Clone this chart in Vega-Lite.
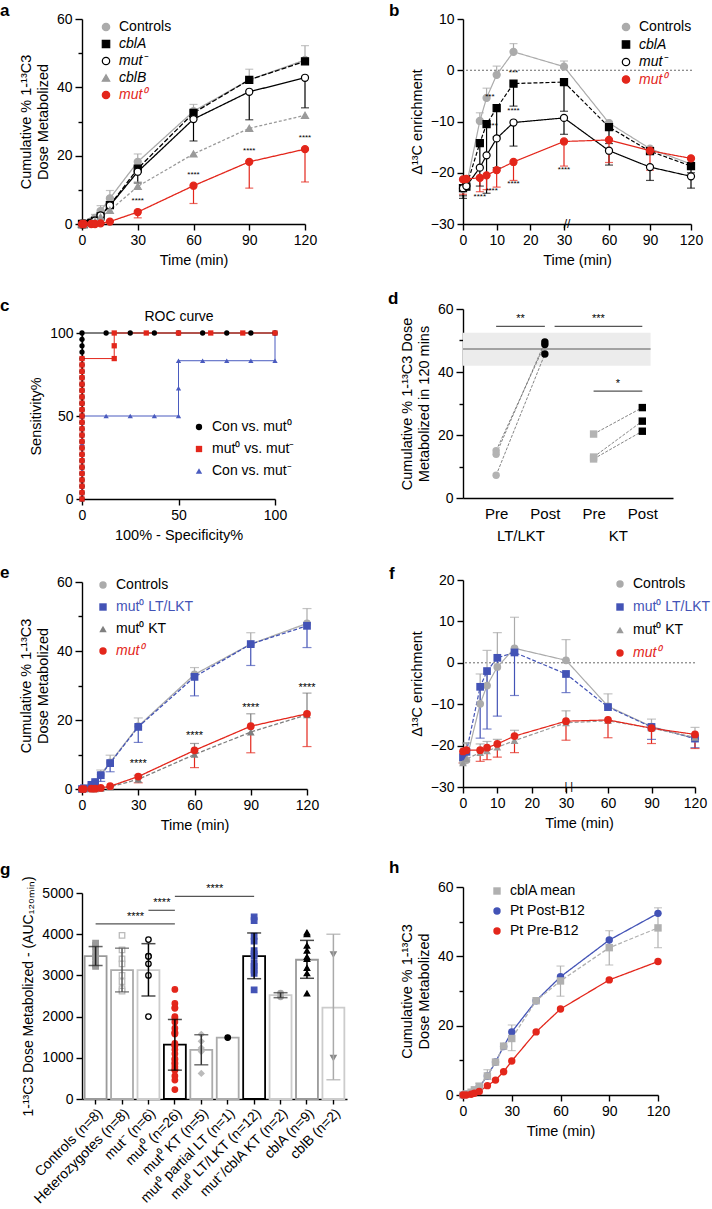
{
"$schema":"https://vega.github.io/schema/vega-lite/v6.json",
"padding":{"left":0,"top":2,"right":0,"bottom":0},
"background":"white",
"config":{
 "font":"Liberation Sans",
 "view":{"stroke":null},
 "axis":{"grid":false,"domainColor":"black","domainWidth":1.4,"tickColor":"black","tickWidth":1.4,"tickSize":6,"labelColor":"black","labelFontSize":14,"titleColor":"black","titleFontSize":14.5,"titleFontWeight":"normal","labelPadding":3,"titlePadding":6,"labelFlush":false,"labelOverlap":false},
 "legend":{"labelFont":"Liberation Sans"},
 "text":{"color":"black"},
 "title":{"font":"Liberation Sans","fontSize":17,"fontWeight":"bold","anchor":"start","frame":"group","color":"black","offset":0,"baseline":"alphabetic"}
},
"spacing":41,
"resolve":{"scale":{"color":"independent","fill":"independent","stroke":"independent","shape":"independent","strokeDash":"independent"},"legend":{"color":"independent","fill":"independent","stroke":"independent","shape":"independent","strokeDash":"independent"}},
"hconcat":[
 {"spacing":22,
  "resolve":{"scale":{"color":"independent","fill":"independent","stroke":"independent","shape":"independent","strokeDash":"independent"},"legend":{"color":"independent","fill":"independent","stroke":"independent","shape":"independent","strokeDash":"independent"}},
  "vconcat":[
  {"spacing":109,"bounds":"flush",
   "resolve":{"scale":{"color":"independent","fill":"independent","stroke":"independent","shape":"independent","strokeDash":"independent"},"legend":{"color":"independent","fill":"independent","stroke":"independent","shape":"independent","strokeDash":"independent"}},
   "vconcat":[
   {"width":223,"height":205,
    "title":{"text":"a","dx":-82,"dy":12},
    "data":{"values":[
     {"s":"Controls","t":0,"v":0},{"s":"Controls","t":1,"v":0.2},{"s":"Controls","t":5,"v":0.8},{"s":"Controls","t":7,"v":1.8,"e":2.8},{"s":"Controls","t":10,"v":3.8,"e":5.4},{"s":"Controls","t":15,"v":7.5,"e":9.8},{"s":"Controls","t":30,"v":18.2,"e":20.5},{"s":"Controls","t":60,"v":33,"e":35},{"s":"Controls","t":90,"v":42.2,"e":45.3},{"s":"Controls","t":120,"v":48,"e":52.2},
     {"s":"cblA","t":0,"v":0},{"s":"cblA","t":1,"v":0},{"s":"cblA","t":5,"v":0.3},{"s":"cblA","t":7,"v":0.9},{"s":"cblA","t":10,"v":2.2},{"s":"cblA","t":15,"v":5.5},{"s":"cblA","t":30,"v":16.2},{"s":"cblA","t":60,"v":32.5},{"s":"cblA","t":90,"v":42.2},{"s":"cblA","t":120,"v":47.6},
     {"s":"mut⁻","t":0,"v":0},{"s":"mut⁻","t":1,"v":0},{"s":"mut⁻","t":5,"v":0.3},{"s":"mut⁻","t":7,"v":1},{"s":"mut⁻","t":10,"v":2.5},{"s":"mut⁻","t":15,"v":5.4},{"s":"mut⁻","t":30,"v":15.3,"e":12},{"s":"mut⁻","t":60,"v":30.7,"e":24.3},{"s":"mut⁻","t":90,"v":38.7,"e":30.5},{"s":"mut⁻","t":120,"v":42.8,"e":34},
     {"s":"cblB","t":0,"v":0},{"s":"cblB","t":1,"v":0},{"s":"cblB","t":5,"v":0.2},{"s":"cblB","t":7,"v":0.7},{"s":"cblB","t":10,"v":2},{"s":"cblB","t":15,"v":4},{"s":"cblB","t":30,"v":11,"e":12.3},{"s":"cblB","t":60,"v":20.5},{"s":"cblB","t":90,"v":28},{"s":"cblB","t":120,"v":31.8},
     {"s":"mut⁰","t":0,"v":0},{"s":"mut⁰","t":1,"v":0},{"s":"mut⁰","t":5,"v":0},{"s":"mut⁰","t":7,"v":0},{"s":"mut⁰","t":10,"v":0.2},{"s":"mut⁰","t":15,"v":0.7},{"s":"mut⁰","t":30,"v":3.5,"e":1.8},{"s":"mut⁰","t":60,"v":11.2,"e":6},{"s":"mut⁰","t":90,"v":18.2,"e":10.5},{"s":"mut⁰","t":120,"v":21.9,"e":12.3}
    ]},
    "layer":[
     {"mark":{"type":"line","strokeWidth":1.3},
      "encoding":{
       "x":{"field":"t","type":"quantitative","scale":{"domain":[0,120],"nice":false},"axis":{"values":[0,30,60,90,120],"tickCount":20,"title":"Time (min)"}},
       "y":{"field":"v","type":"quantitative","scale":{"domain":[0,60],"nice":false},"axis":{"values":[0,10,20,30,40,50,60],"tickCount":20,"labelExpr":"datum.value % 20 == 0 ? datum.label : ''","tickSize":{"condition":{"test":"datum.value % 20 != 0","value":4},"value":7},"title":["Cumulative % 1-¹³C3","Dose Metabolized"]}},
       "stroke":{"field":"s","type":"nominal","scale":{"domain":["mut⁰","cblB","mut⁻","cblA","Controls"],"range":["#e3261b","#9a9a9a","#000000","#000000","#ababab"]},"legend":null},
       "strokeDash":{"field":"s","type":"nominal","scale":{"domain":["mut⁰","cblB","mut⁻","cblA","Controls"],"range":[[1,0],[3,2],[1,0],[5,2],[1,0]]},"legend":null}}},
     {"transform":[{"filter":"isValid(datum.e)"}],"mark":{"type":"rule","strokeWidth":1.2},
      "encoding":{"x":{"field":"t","type":"quantitative"},"y":{"field":"v","type":"quantitative"},"y2":{"field":"e"},"stroke":{"field":"s","type":"nominal","legend":null}}},
     {"transform":[{"filter":"isValid(datum.e)"}],"mark":{"type":"tick","orient":"horizontal","size":8,"thickness":1.2},
      "encoding":{"x":{"field":"t","type":"quantitative"},"y":{"field":"e","type":"quantitative"},"color":{"field":"s","type":"nominal","scale":{"domain":["mut⁰","cblB","mut⁻","cblA","Controls"],"range":["#e3261b","#9a9a9a","#000000","#000000","#ababab"]},"legend":null}}},
     {"mark":{"type":"point","filled":true,"size":50,"opacity":1,"strokeWidth":1.2},
      "encoding":{"x":{"field":"t","type":"quantitative"},"y":{"field":"v","type":"quantitative"},
       "fill":{"field":"s","type":"nominal","scale":{"domain":["mut⁰","cblB","mut⁻","cblA","Controls"],"range":["#e3261b","#9a9a9a","#ffffff","#000000","#ababab"]},"legend":null},
       "stroke":{"field":"s","type":"nominal","legend":null},
       "shape":{"field":"s","type":"nominal","scale":{"domain":["Controls","cblA","mut⁻","cblB","mut⁰"],"range":["circle","square","circle","triangle-up","circle"]},
        "legend":{"title":null,"orient":"none","legendX":17,"legendY":1,"labelFontSize":14,"symbolSize":55,"rowPadding":3,"labelOffset":6,"symbolStrokeWidth":1.2,"symbolOpacity":1,
         "symbolFillColor":{"expr":"datum.value === 'Controls' ? '#ababab' : datum.value === 'cblB' ? '#9a9a9a' : datum.value === 'mut⁰' ? '#e3261b' : datum.value === 'mut⁻' ? '#ffffff' : '#000000'"},
         "symbolStrokeColor":{"expr":"datum.value === 'Controls' ? '#ababab' : datum.value === 'cblB' ? '#9a9a9a' : datum.value === 'mut⁰' ? '#e3261b' : '#000000'"},
         "labelColor":{"expr":"datum.value === 'mut⁰' ? '#e3261b' : '#000000'"},
         "labelFontStyle":{"expr":"datum.value === 'Controls' ? 'normal' : 'italic'"}}}}},
     {"data":{"values":[{"t":30,"y":5.5,"txt":"****"},{"t":60,"y":13.3,"txt":"****"},{"t":90,"y":20.3,"txt":"****"},{"t":120,"y":24,"txt":"****"}]},
      "mark":{"type":"text","fontSize":8,"baseline":"bottom","color":"black"},
      "encoding":{"x":{"field":"t","type":"quantitative"},"y":{"field":"y","type":"quantitative"},"text":{"field":"txt"}}}
    ]},
   {"width":193,"height":166,
    "title":{"text":"c","dx":-82,"dy":9.5},
    "data":{"values":[
     {"s":"Con vs. mut⁰","o":1,"x":0,"y":0},{"s":"Con vs. mut⁰","o":2,"x":0,"y":3.8},{"s":"Con vs. mut⁰","o":3,"x":0,"y":7.7},{"s":"Con vs. mut⁰","o":4,"x":0,"y":11.5},{"s":"Con vs. mut⁰","o":5,"x":0,"y":15.4},{"s":"Con vs. mut⁰","o":6,"x":0,"y":19.2},{"s":"Con vs. mut⁰","o":7,"x":0,"y":23.1},{"s":"Con vs. mut⁰","o":8,"x":0,"y":26.9},{"s":"Con vs. mut⁰","o":9,"x":0,"y":30.8},{"s":"Con vs. mut⁰","o":10,"x":0,"y":34.6},{"s":"Con vs. mut⁰","o":11,"x":0,"y":38.5},{"s":"Con vs. mut⁰","o":12,"x":0,"y":42.3},{"s":"Con vs. mut⁰","o":13,"x":0,"y":46.2},{"s":"Con vs. mut⁰","o":14,"x":0,"y":50},{"s":"Con vs. mut⁰","o":15,"x":0,"y":53.8},{"s":"Con vs. mut⁰","o":16,"x":0,"y":57.7},{"s":"Con vs. mut⁰","o":17,"x":0,"y":61.5},{"s":"Con vs. mut⁰","o":18,"x":0,"y":65.4},{"s":"Con vs. mut⁰","o":19,"x":0,"y":69.2},{"s":"Con vs. mut⁰","o":20,"x":0,"y":73.1},{"s":"Con vs. mut⁰","o":21,"x":0,"y":76.9},{"s":"Con vs. mut⁰","o":22,"x":0,"y":80.8},{"s":"Con vs. mut⁰","o":23,"x":0,"y":84.6},{"s":"Con vs. mut⁰","o":24,"x":0,"y":88.5},{"s":"Con vs. mut⁰","o":25,"x":0,"y":92.3},{"s":"Con vs. mut⁰","o":26,"x":0,"y":96.2},{"s":"Con vs. mut⁰","o":27,"x":0,"y":100},
     {"s":"Con vs. mut⁰","o":28,"x":12.5,"y":100},{"s":"Con vs. mut⁰","o":29,"x":25,"y":100},{"s":"Con vs. mut⁰","o":30,"x":37.5,"y":100},{"s":"Con vs. mut⁰","o":31,"x":50,"y":100},{"s":"Con vs. mut⁰","o":32,"x":62.5,"y":100},{"s":"Con vs. mut⁰","o":33,"x":75,"y":100},{"s":"Con vs. mut⁰","o":34,"x":87.5,"y":100},{"s":"Con vs. mut⁰","o":35,"x":100,"y":100},
     {"s":"Con vs. mut⁻","o":1,"x":0,"y":0},{"s":"Con vs. mut⁻","o":2,"x":0,"y":16.7},{"s":"Con vs. mut⁻","o":3,"x":0,"y":33.3},{"s":"Con vs. mut⁻","o":4,"x":0,"y":50},{"s":"Con vs. mut⁻","o":5,"x":12.5,"y":50},{"s":"Con vs. mut⁻","o":6,"x":25,"y":50},{"s":"Con vs. mut⁻","o":7,"x":37.5,"y":50},{"s":"Con vs. mut⁻","o":8,"x":50,"y":50},{"s":"Con vs. mut⁻","o":9,"x":50,"y":66.7},{"s":"Con vs. mut⁻","o":10,"x":50,"y":83.3},{"s":"Con vs. mut⁻","o":11,"x":62.5,"y":83.3},{"s":"Con vs. mut⁻","o":12,"x":75,"y":83.3},{"s":"Con vs. mut⁻","o":13,"x":87.5,"y":83.3},{"s":"Con vs. mut⁻","o":14,"x":100,"y":83.3},{"s":"Con vs. mut⁻","o":15,"x":100,"y":100},
     {"s":"mut⁰ vs. mut⁻","o":1,"x":0,"y":0},{"s":"mut⁰ vs. mut⁻","o":2,"x":0,"y":3.8},{"s":"mut⁰ vs. mut⁻","o":3,"x":0,"y":7.7},{"s":"mut⁰ vs. mut⁻","o":4,"x":0,"y":11.5},{"s":"mut⁰ vs. mut⁻","o":5,"x":0,"y":15.4},{"s":"mut⁰ vs. mut⁻","o":6,"x":0,"y":19.2},{"s":"mut⁰ vs. mut⁻","o":7,"x":0,"y":23.1},{"s":"mut⁰ vs. mut⁻","o":8,"x":0,"y":26.9},{"s":"mut⁰ vs. mut⁻","o":9,"x":0,"y":30.8},{"s":"mut⁰ vs. mut⁻","o":10,"x":0,"y":34.6},{"s":"mut⁰ vs. mut⁻","o":11,"x":0,"y":38.5},{"s":"mut⁰ vs. mut⁻","o":12,"x":0,"y":42.3},{"s":"mut⁰ vs. mut⁻","o":13,"x":0,"y":46.2},{"s":"mut⁰ vs. mut⁻","o":14,"x":0,"y":50},{"s":"mut⁰ vs. mut⁻","o":15,"x":0,"y":53.8},{"s":"mut⁰ vs. mut⁻","o":16,"x":0,"y":57.7},{"s":"mut⁰ vs. mut⁻","o":17,"x":0,"y":61.5},{"s":"mut⁰ vs. mut⁻","o":18,"x":0,"y":65.4},{"s":"mut⁰ vs. mut⁻","o":19,"x":0,"y":69.2},{"s":"mut⁰ vs. mut⁻","o":20,"x":0,"y":73.1},{"s":"mut⁰ vs. mut⁻","o":21,"x":0,"y":76.9},{"s":"mut⁰ vs. mut⁻","o":22,"x":0,"y":80.8},{"s":"mut⁰ vs. mut⁻","o":23,"x":0,"y":84.6},
     {"s":"mut⁰ vs. mut⁻","o":24,"x":16.7,"y":84.6},{"s":"mut⁰ vs. mut⁻","o":25,"x":16.7,"y":92.3},{"s":"mut⁰ vs. mut⁻","o":26,"x":16.7,"y":100},{"s":"mut⁰ vs. mut⁻","o":27,"x":33.3,"y":100},{"s":"mut⁰ vs. mut⁻","o":28,"x":50,"y":100},{"s":"mut⁰ vs. mut⁻","o":29,"x":66.7,"y":100},{"s":"mut⁰ vs. mut⁻","o":30,"x":83.3,"y":100},{"s":"mut⁰ vs. mut⁻","o":31,"x":100,"y":100}
    ]},
    "resolve":{"axis":{"x":"independent"}},
    "layer":[
     {"mark":{"type":"line","strokeWidth":1},
      "encoding":{
       "x":{"field":"x","type":"quantitative","scale":{"domain":[0,100],"nice":false},"axis":{"values":[0,50,100],"title":"100% - Specificity%"}},
       "y":{"field":"y","type":"quantitative","scale":{"domain":[0,100],"nice":false},"axis":{"values":[0,50,100],"title":"Sensitivity%"}},
       "order":{"field":"o","type":"quantitative"},
       "stroke":{"field":"s","type":"nominal","scale":{"domain":["Con vs. mut⁻","mut⁰ vs. mut⁻","Con vs. mut⁰"],"range":["#4a5bbf","#e3261b","#000000"]},"legend":null}}},
     {"mark":{"type":"point","filled":true,"size":28,"opacity":1},
      "encoding":{
       "x":{"field":"x","type":"quantitative","axis":{"orient":"top","title":"ROC curve","labels":false,"ticks":false,"domain":false,"titlePadding":10,"titleFontSize":14}},
       "y":{"field":"y","type":"quantitative"},
       "fill":{"field":"s","type":"nominal","scale":{"domain":["Con vs. mut⁻","mut⁰ vs. mut⁻","Con vs. mut⁰"],"range":["#4a5bbf","#e3261b","#000000"]},"legend":null},
       "shape":{"field":"s","type":"nominal","scale":{"domain":["Con vs. mut⁰","mut⁰ vs. mut⁻","Con vs. mut⁻"],"range":["circle","square","triangle-up"]},
        "legend":{"title":null,"orient":"none","legendX":110,"legendY":87,"labelFontSize":14,"symbolSize":40,"rowPadding":8,"labelOffset":6,"symbolOpacity":1,"symbolStrokeWidth":0,
         "symbolFillColor":{"expr":"datum.value === 'Con vs. mut⁰' ? '#000000' : datum.value === 'mut⁰ vs. mut⁻' ? '#e3261b' : '#4a5bbf'"},
         "symbolStrokeColor":{"expr":"datum.value === 'Con vs. mut⁰' ? '#000000' : datum.value === 'mut⁰ vs. mut⁻' ? '#e3261b' : '#4a5bbf'"},
         "labelColor":"#000000"}}}}
    ]}
  ]},
  {"spacing":104,"bounds":"flush",
   "resolve":{"scale":{"color":"independent","fill":"independent","stroke":"independent","shape":"independent","strokeDash":"independent"},"legend":{"color":"independent","fill":"independent","stroke":"independent","shape":"independent","strokeDash":"independent"}},
   "vconcat":[
   {"width":225,"height":207,
    "title":{"text":"e","dx":-82,"dy":11},
    "data":{"values":[
     {"s":"Controls","t":0,"v":0},{"s":"Controls","t":1,"v":0.2},{"s":"Controls","t":5,"v":1.2},{"s":"Controls","t":7,"v":2},{"s":"Controls","t":10,"v":4.2,"e":5.5},{"s":"Controls","t":15,"v":7.7,"e":9.8},{"s":"Controls","t":30,"v":18.2,"e":20.6},{"s":"Controls","t":60,"v":33.2,"e":35.2},{"s":"Controls","t":90,"v":42,"e":45.3},{"s":"Controls","t":120,"v":48,"e":52.3},
     {"s":"mut⁰ LT/LKT","t":0,"v":0},{"s":"mut⁰ LT/LKT","t":1,"v":0.2},{"s":"mut⁰ LT/LKT","t":5,"v":1.2},{"s":"mut⁰ LT/LKT","t":7,"v":2},{"s":"mut⁰ LT/LKT","t":10,"v":4,"e":2.2},{"s":"mut⁰ LT/LKT","t":15,"v":7.5,"e":5},{"s":"mut⁰ LT/LKT","t":30,"v":18,"e":13.5},{"s":"mut⁰ LT/LKT","t":60,"v":32.5,"e":27},{"s":"mut⁰ LT/LKT","t":90,"v":42,"e":35.8},{"s":"mut⁰ LT/LKT","t":120,"v":47.3,"e":41},
     {"s":"mut⁰ KT","t":0,"v":0},{"s":"mut⁰ KT","t":1,"v":0},{"s":"mut⁰ KT","t":5,"v":0},{"s":"mut⁰ KT","t":7,"v":0},{"s":"mut⁰ KT","t":10,"v":0.2},{"s":"mut⁰ KT","t":15,"v":0.6},{"s":"mut⁰ KT","t":30,"v":2.8,"e":4},{"s":"mut⁰ KT","t":60,"v":10,"e":13.2},{"s":"mut⁰ KT","t":90,"v":16.5,"e":21.8},{"s":"mut⁰ KT","t":120,"v":21.5,"e":27.8},
     {"s":"mut⁰","t":0,"v":0},{"s":"mut⁰","t":1,"v":0},{"s":"mut⁰","t":5,"v":0.1},{"s":"mut⁰","t":7,"v":0.1},{"s":"mut⁰","t":10,"v":0.3},{"s":"mut⁰","t":15,"v":0.8},{"s":"mut⁰","t":30,"v":3.6,"e":1.8},{"s":"mut⁰","t":60,"v":11.2,"e":6.2},{"s":"mut⁰","t":90,"v":18.2,"e":10.5},{"s":"mut⁰","t":120,"v":21.8,"e":12.3}
    ]},
    "layer":[
     {"mark":{"type":"line","strokeWidth":1.3},
      "encoding":{
       "x":{"field":"t","type":"quantitative","scale":{"domain":[0,120],"nice":false},"axis":{"values":[0,30,60,90,120],"tickCount":20,"title":"Time (min)"}},
       "y":{"field":"v","type":"quantitative","scale":{"domain":[0,60],"nice":false},"axis":{"values":[0,10,20,30,40,50,60],"tickCount":20,"labelExpr":"datum.value % 20 == 0 ? datum.label : ''","tickSize":{"condition":{"test":"datum.value % 20 != 0","value":4},"value":7},"title":["Cumulative % 1-¹³C3","Dose Metabolized"]}},
       "stroke":{"field":"s","type":"nominal","scale":{"domain":["mut⁰","mut⁰ KT","mut⁰ LT/LKT","Controls"],"range":["#e3261b","#7f7f7f","#4353b6","#ababab"]},"legend":null},
       "strokeDash":{"field":"s","type":"nominal","scale":{"domain":["mut⁰","mut⁰ KT","mut⁰ LT/LKT","Controls"],"range":[[1,0],[4,2],[4,2],[1,0]]},"legend":null}}},
     {"transform":[{"filter":"isValid(datum.e)"}],"mark":{"type":"rule","strokeWidth":1.2},
      "encoding":{"x":{"field":"t","type":"quantitative"},"y":{"field":"v","type":"quantitative"},"y2":{"field":"e"},"stroke":{"field":"s","type":"nominal","legend":null}}},
     {"transform":[{"filter":"isValid(datum.e)"}],"mark":{"type":"tick","orient":"horizontal","size":9,"thickness":1.2},
      "encoding":{"x":{"field":"t","type":"quantitative"},"y":{"field":"e","type":"quantitative"},"color":{"field":"s","type":"nominal","scale":{"domain":["mut⁰","mut⁰ KT","mut⁰ LT/LKT","Controls"],"range":["#e3261b","#7f7f7f","#4353b6","#ababab"]},"legend":null}}},
     {"mark":{"type":"point","filled":true,"size":60,"opacity":1,"strokeWidth":1.2},
      "encoding":{"x":{"field":"t","type":"quantitative"},"y":{"field":"v","type":"quantitative"},
       "fill":{"field":"s","type":"nominal","scale":{"domain":["mut⁰","mut⁰ KT","mut⁰ LT/LKT","Controls"],"range":["#e3261b","#7f7f7f","#4353b6","#ababab"]},"legend":null},
       "shape":{"field":"s","type":"nominal","scale":{"domain":["Controls","mut⁰ LT/LKT","mut⁰ KT","mut⁰"],"range":["circle","square","triangle-up","circle"]},
        "legend":{"title":null,"orient":"none","legendX":14,"legendY":-4,"labelFontSize":14,"symbolSize":55,"rowPadding":8,"labelOffset":6,"symbolOpacity":1,"symbolStrokeWidth":0,
         "symbolFillColor":{"expr":"datum.value === 'Controls' ? '#ababab' : datum.value === 'mut⁰ LT/LKT' ? '#4353b6' : datum.value === 'mut⁰ KT' ? '#7f7f7f' : '#e3261b'"},
         "symbolStrokeColor":{"expr":"datum.value === 'Controls' ? '#ababab' : datum.value === 'mut⁰ LT/LKT' ? '#4353b6' : datum.value === 'mut⁰ KT' ? '#7f7f7f' : '#e3261b'"},
         "labelColor":{"expr":"datum.value === 'mut⁰' ? '#e3261b' : datum.value === 'mut⁰ LT/LKT' ? '#4353b6' : '#000000'"},
         "labelFontStyle":{"expr":"datum.value === 'mut⁰' ? 'italic' : 'normal'"}}}}},
     {"data":{"values":[{"t":30,"y":5.8,"txt":"****"},{"t":60,"y":13.8,"txt":"****"},{"t":90,"y":21.9,"txt":"****"},{"t":120,"y":27.9,"txt":"****"}]},
      "mark":{"type":"text","fontSize":11,"baseline":"bottom","color":"black"},
      "encoding":{"x":{"field":"t","type":"quantitative"},"y":{"field":"y","type":"quantitative"},"text":{"field":"txt"}}}
    ]},
   {"width":265,"height":206,
    "title":{"text":"g","dx":-82,"dy":7},
    "resolve":{"scale":{"stroke":"independent"}},
    "layer":[
     {"data":{"name":"gbars","values":[
       {"c":"Controls (n=8)","m":3470,"lo":3240,"hi":3700},
       {"c":"Heterozygotes (n=8)","m":3130,"lo":2600,"hi":3660},
       {"c":"mut⁻ (n=6)","m":3130,"lo":2500,"hi":3770},
       {"c":"mut⁰ (n=26)","m":1320,"lo":700,"hi":1930},
       {"c":"mut⁰ KT (n=5)","m":1190,"lo":830,"hi":1560},
       {"c":"mut⁰ partial LT (n=1)","m":1490},
       {"c":"mut⁰ LT/LKT (n=12)","m":3470,"lo":2920,"hi":4030},
       {"c":"mut⁻/cblA KT (n=2)","m":2520,"lo":2460,"hi":2580},
       {"c":"cblA (n=9)","m":3380,"lo":2930,"hi":3850},
       {"c":"cblB (n=2)","m":2220,"lo":470,"hi":4000}]},
      "mark":{"type":"bar","fill":"white","strokeWidth":1.8},
      "encoding":{
       "x":{"field":"c","type":"nominal","sort":null,"scale":{"domain":["Controls (n=8)","Heterozygotes (n=8)","mut⁻ (n=6)","mut⁰ (n=26)","mut⁰ KT (n=5)","mut⁰ partial LT (n=1)","mut⁰ LT/LKT (n=12)","mut⁻/cblA KT (n=2)","cblA (n=9)","cblB (n=2)"],"paddingInner":0.17,"paddingOuter":0.1},"axis":{"title":null,"labelAngle":-45,"labelFontSize":14,"tickSize":5,"labelPadding":2}},
       "y":{"field":"m","type":"quantitative","scale":{"domain":[0,5000],"nice":false},"axis":{"values":[0,1000,2000,3000,4000,5000],"tickCount":20,"format":"d","title":"1-¹³C3 Dose Metabolized - (AUC₁₂₀ₘᵢₙ)","titleFontSize":14}},
       "stroke":{"field":"c","type":"nominal","scale":{"domain":["Controls (n=8)","Heterozygotes (n=8)","mut⁻ (n=6)","mut⁰ (n=26)","mut⁰ KT (n=5)","mut⁰ partial LT (n=1)","mut⁰ LT/LKT (n=12)","mut⁻/cblA KT (n=2)","cblA (n=9)","cblB (n=2)"],"range":["#9a9a9a","#ababab","#cccccc","#000000","#ababab","#ababab","#000000","#cccccc","#9a9a9a","#cccccc"]},"legend":null}}},
     {"data":{"values":[
       {"c":"Controls (n=8)","v":3780},{"c":"Controls (n=8)","v":3730},{"c":"Controls (n=8)","v":3700},{"c":"Controls (n=8)","v":3560},{"c":"Controls (n=8)","v":3450},{"c":"Controls (n=8)","v":3380},{"c":"Controls (n=8)","v":3270},{"c":"Controls (n=8)","v":3220},
       {"c":"Heterozygotes (n=8)","v":3970},{"c":"Heterozygotes (n=8)","v":3620},{"c":"Heterozygotes (n=8)","v":3400},{"c":"Heterozygotes (n=8)","v":3280},{"c":"Heterozygotes (n=8)","v":3000},{"c":"Heterozygotes (n=8)","v":2850},{"c":"Heterozygotes (n=8)","v":2680},{"c":"Heterozygotes (n=8)","v":2620},
       {"c":"mut⁻ (n=6)","v":3870},{"c":"mut⁻ (n=6)","v":3470},{"c":"mut⁻ (n=6)","v":3460},{"c":"mut⁻ (n=6)","v":3280},{"c":"mut⁻ (n=6)","v":3000},{"c":"mut⁻ (n=6)","v":2000},
       {"c":"mut⁰ (n=26)","v":2660},{"c":"mut⁰ (n=26)","v":2320},{"c":"mut⁰ (n=26)","v":2220},{"c":"mut⁰ (n=26)","v":2200},{"c":"mut⁰ (n=26)","v":2000},{"c":"mut⁰ (n=26)","v":1960},{"c":"mut⁰ (n=26)","v":1870},{"c":"mut⁰ (n=26)","v":1720},{"c":"mut⁰ (n=26)","v":1620},{"c":"mut⁰ (n=26)","v":1600},{"c":"mut⁰ (n=26)","v":1580},{"c":"mut⁰ (n=26)","v":1350},{"c":"mut⁰ (n=26)","v":1300},{"c":"mut⁰ (n=26)","v":1290},{"c":"mut⁰ (n=26)","v":1200},{"c":"mut⁰ (n=26)","v":1100},{"c":"mut⁰ (n=26)","v":980},{"c":"mut⁰ (n=26)","v":950},{"c":"mut⁰ (n=26)","v":880},{"c":"mut⁰ (n=26)","v":850},{"c":"mut⁰ (n=26)","v":780},{"c":"mut⁰ (n=26)","v":720},{"c":"mut⁰ (n=26)","v":700},{"c":"mut⁰ (n=26)","v":560},{"c":"mut⁰ (n=26)","v":460},{"c":"mut⁰ (n=26)","v":230},
       {"c":"mut⁰ KT (n=5)","v":1570},{"c":"mut⁰ KT (n=5)","v":1400},{"c":"mut⁰ KT (n=5)","v":1240},{"c":"mut⁰ KT (n=5)","v":1150},{"c":"mut⁰ KT (n=5)","v":620},
       {"c":"mut⁰ partial LT (n=1)","v":1490},
       {"c":"mut⁰ LT/LKT (n=12)","v":4420},{"c":"mut⁰ LT/LKT (n=12)","v":4330},{"c":"mut⁰ LT/LKT (n=12)","v":3950},{"c":"mut⁰ LT/LKT (n=12)","v":3830},{"c":"mut⁰ LT/LKT (n=12)","v":3600},{"c":"mut⁰ LT/LKT (n=12)","v":3520},{"c":"mut⁰ LT/LKT (n=12)","v":3460},{"c":"mut⁰ LT/LKT (n=12)","v":3290},{"c":"mut⁰ LT/LKT (n=12)","v":3220},{"c":"mut⁰ LT/LKT (n=12)","v":3130},{"c":"mut⁰ LT/LKT (n=12)","v":3050},{"c":"mut⁰ LT/LKT (n=12)","v":2650},
       {"c":"mut⁻/cblA KT (n=2)","v":2570},{"c":"mut⁻/cblA KT (n=2)","v":2480},
       {"c":"cblA (n=9)","v":4040},{"c":"cblA (n=9)","v":4000},{"c":"cblA (n=9)","v":3720},{"c":"cblA (n=9)","v":3600},{"c":"cblA (n=9)","v":3450},{"c":"cblA (n=9)","v":3400},{"c":"cblA (n=9)","v":3180},{"c":"cblA (n=9)","v":3050},{"c":"cblA (n=9)","v":2560},
       {"c":"cblB (n=2)","v":3510},{"c":"cblB (n=2)","v":1000}]},
      "mark":{"type":"point","filled":true,"size":30,"opacity":1,"strokeWidth":1.3},
      "encoding":{
       "x":{"field":"c","type":"nominal","sort":null},
       "y":{"field":"v","type":"quantitative"},
       "fill":{"field":"c","type":"nominal","scale":{"domain":["Controls (n=8)","Heterozygotes (n=8)","mut⁻ (n=6)","mut⁰ (n=26)","mut⁰ KT (n=5)","mut⁰ partial LT (n=1)","mut⁰ LT/LKT (n=12)","mut⁻/cblA KT (n=2)","cblA (n=9)","cblB (n=2)"],"range":["#9a9a9a","#ffffff","#ffffff","#e3261b","#bbbbbb","#000000","#4353b6","#aaaaaa","#000000","#888888"]},"legend":null},
       "stroke":{"field":"c","type":"nominal","scale":{"domain":["Controls (n=8)","Heterozygotes (n=8)","mut⁻ (n=6)","mut⁰ (n=26)","mut⁰ KT (n=5)","mut⁰ partial LT (n=1)","mut⁰ LT/LKT (n=12)","mut⁻/cblA KT (n=2)","cblA (n=9)","cblB (n=2)"],"range":["#9a9a9a","#bbbbbb","#000000","#e3261b","#bbbbbb","#000000","#4353b6","#aaaaaa","#000000","#888888"]},"legend":null},
       "shape":{"field":"c","type":"nominal","scale":{"domain":["Controls (n=8)","Heterozygotes (n=8)","mut⁻ (n=6)","mut⁰ (n=26)","mut⁰ KT (n=5)","mut⁰ partial LT (n=1)","mut⁰ LT/LKT (n=12)","mut⁻/cblA KT (n=2)","cblA (n=9)","cblB (n=2)"],"range":["square","square","circle","circle","diamond","circle","square","circle","triangle-up","triangle-down"]},"legend":null}}},
     {"data":{"name":"gbars"},"transform":[{"filter":"isValid(datum.lo)"}],
      "mark":{"type":"rule","strokeWidth":1.5},
      "encoding":{"x":{"field":"c","type":"nominal","sort":null},"y":{"field":"lo","type":"quantitative"},"y2":{"field":"hi"},
       "color":{"field":"c","type":"nominal","scale":{"domain":["Controls (n=8)","Heterozygotes (n=8)","mut⁻ (n=6)","mut⁰ (n=26)","mut⁰ KT (n=5)","mut⁰ partial LT (n=1)","mut⁰ LT/LKT (n=12)","mut⁻/cblA KT (n=2)","cblA (n=9)","cblB (n=2)"],"range":["#222222","#555555","#000000","#000000","#333333","#000000","#000000","#333333","#000000","#aaaaaa"]},"legend":null}}},
     {"data":{"name":"gbars"},"transform":[{"filter":"isValid(datum.lo)"}],
      "mark":{"type":"tick","orient":"horizontal","size":14,"thickness":1.5},
      "encoding":{"x":{"field":"c","type":"nominal","sort":null},"y":{"field":"lo","type":"quantitative"},"color":{"field":"c","type":"nominal","legend":null}}},
     {"data":{"name":"gbars"},"transform":[{"filter":"isValid(datum.hi)"}],
      "mark":{"type":"tick","orient":"horizontal","size":14,"thickness":1.5},
      "encoding":{"x":{"field":"c","type":"nominal","sort":null},"y":{"field":"hi","type":"quantitative"},"color":{"field":"c","type":"nominal","legend":null}}},
     {"data":{"values":[{"c1":"Controls (n=8)","c2":"mut⁰ (n=26)","y":4250},{"c1":"mut⁻ (n=6)","c2":"mut⁰ (n=26)","y":4580},{"c1":"mut⁰ (n=26)","c2":"mut⁰ LT/LKT (n=12)","y":4920}]},
      "mark":{"type":"rule","color":"#555555","strokeWidth":1.2},
      "encoding":{"x":{"field":"c1","type":"nominal","sort":null},"x2":{"field":"c2"},"y":{"field":"y","type":"quantitative"}}},
     {"data":{"values":[{"c":"mut⁻ (n=6)","y":4300,"txt":"****"},{"c":"mut⁰ (n=26)","y":4630,"txt":"****"},{"c":"mut⁰ partial LT (n=1)","y":4970,"txt":"****"}]},
      "mark":{"type":"text","fontSize":11,"baseline":"bottom","dx":-13,"color":"black"},
      "encoding":{"x":{"field":"c","type":"nominal","sort":null},"y":{"field":"y","type":"quantitative"},"text":{"field":"txt"}}}
    ]}
  ]}
 ]},
 {"spacing":22,
  "resolve":{"scale":{"color":"independent","fill":"independent","stroke":"independent","shape":"independent","strokeDash":"independent"},"legend":{"color":"independent","fill":"independent","stroke":"independent","shape":"independent","strokeDash":"independent"}},
  "vconcat":[
  {"spacing":85,"bounds":"flush",
   "resolve":{"scale":{"color":"independent","fill":"independent","stroke":"independent","shape":"independent","strokeDash":"independent"},"legend":{"color":"independent","fill":"independent","stroke":"independent","shape":"independent","strokeDash":"independent"}},
   "vconcat":[
   {"width":229,"height":205,
    "title":{"text":"b","dx":-74,"dy":12},
    "data":{"values":[
     {"s":"Controls","t":0,"v":-23.2},{"s":"Controls","t":1,"v":-22.5},{"s":"Controls","t":5,"v":-9.9,"e":-8.3},{"s":"Controls","t":7,"v":-5.4,"e":-3.5},{"s":"Controls","t":10,"v":-0.9,"e":0.8},{"s":"Controls","t":15,"v":3.6,"e":5.2},{"s":"Controls","t":30,"v":0.7,"e":1.8},{"s":"Controls","t":60,"v":-10.3},{"s":"Controls","t":90,"v":-15.3},{"s":"Controls","t":120,"v":-18.3},
     {"s":"cblA","t":0,"v":-23,"e":-25},{"s":"cblA","t":1,"v":-22.7},{"s":"cblA","t":5,"v":-14.2,"e":-22.6},{"s":"cblA","t":7,"v":-10.5,"e":-24},{"s":"cblA","t":10,"v":-7.4,"e":-13},{"s":"cblA","t":15,"v":-2.6,"e":-7},{"s":"cblA","t":30,"v":-2.3,"e":-8},{"s":"cblA","t":60,"v":-11.1,"e":-14.3},{"s":"cblA","t":90,"v":-15.8},{"s":"cblA","t":120,"v":-18.7,"e":-20},
     {"s":"mut⁻","t":0,"v":-23,"e":-24.5},{"s":"mut⁻","t":1,"v":-22.6},{"s":"mut⁻","t":5,"v":-19},{"s":"mut⁻","t":7,"v":-16.6},{"s":"mut⁻","t":10,"v":-13.3,"e":-19},{"s":"mut⁻","t":15,"v":-10.2,"e":-14.8},{"s":"mut⁻","t":30,"v":-9.3,"e":-12.5},{"s":"mut⁻","t":60,"v":-15.7,"e":-18.5},{"s":"mut⁻","t":90,"v":-18.9,"e":-21.5},{"s":"mut⁻","t":120,"v":-20.7,"e":-23},
     {"s":"mut⁰","t":0,"v":-21.3,"e":-24.2},{"s":"mut⁰","t":1,"v":-21.2},{"s":"mut⁰","t":5,"v":-21,"e":-23.7},{"s":"mut⁰","t":7,"v":-20.5,"e":-23.3},{"s":"mut⁰","t":10,"v":-19.5,"e":-22.8},{"s":"mut⁰","t":15,"v":-17.9,"e":-21.5},{"s":"mut⁰","t":30,"v":-13.9,"e":-18.7},{"s":"mut⁰","t":60,"v":-13.6,"e":-18},{"s":"mut⁰","t":90,"v":-15.7,"e":-19.5},{"s":"mut⁰","t":120,"v":-17.2}
    ]},
    "layer":[
     {"data":{"values":[{}]},"mark":{"type":"rule","strokeDash":[2,2],"color":"#444444","strokeWidth":0.8},"encoding":{"y":{"datum":0,"type":"quantitative"}}},
     {"mark":{"type":"line","strokeWidth":1.2},
      "encoding":{
       "x":{"field":"t","type":"quantitative","scale":{"domain":[0,30,60,120],"range":[0,101,146,228],"nice":false,"zero":false},"axis":{"values":[0,10,20,30,60,90,120],"tickCount":20,"title":"Time (min)"}},
       "y":{"field":"v","type":"quantitative","scale":{"domain":[-30,10],"nice":false},"axis":{"values":[-30,-20,-10,0,10],"tickCount":20,"title":"Δ¹³C enrichment"}},
       "stroke":{"field":"s","type":"nominal","scale":{"domain":["mut⁰","mut⁻","cblA","Controls"],"range":["#e3261b","#000000","#000000","#ababab"]},"legend":null},
       "strokeDash":{"field":"s","type":"nominal","scale":{"domain":["mut⁰","mut⁻","cblA","Controls"],"range":[[1,0],[1,0],[4,2],[1,0]]},"legend":null}}},
     {"transform":[{"filter":"isValid(datum.e)"}],"mark":{"type":"rule","strokeWidth":1.2},
      "encoding":{"x":{"field":"t","type":"quantitative"},"y":{"field":"v","type":"quantitative"},"y2":{"field":"e"},"stroke":{"field":"s","type":"nominal","legend":null}}},
     {"transform":[{"filter":"isValid(datum.e)"}],"mark":{"type":"tick","orient":"horizontal","size":8,"thickness":1.2},
      "encoding":{"x":{"field":"t","type":"quantitative"},"y":{"field":"e","type":"quantitative"},"color":{"field":"s","type":"nominal","scale":{"domain":["mut⁰","mut⁻","cblA","Controls"],"range":["#e3261b","#000000","#000000","#ababab"]},"legend":null}}},
     {"mark":{"type":"point","filled":true,"size":50,"opacity":1,"strokeWidth":1.2},
      "encoding":{"x":{"field":"t","type":"quantitative"},"y":{"field":"v","type":"quantitative"},
       "fill":{"field":"s","type":"nominal","scale":{"domain":["mut⁰","mut⁻","cblA","Controls"],"range":["#e3261b","#ffffff","#000000","#ababab"]},"legend":null},
       "stroke":{"field":"s","type":"nominal","legend":null},
       "shape":{"field":"s","type":"nominal","scale":{"domain":["Controls","cblA","mut⁻","mut⁰"],"range":["circle","square","circle","circle"]},
        "legend":{"title":null,"orient":"none","legendX":156,"legendY":1,"labelFontSize":14,"symbolSize":55,"rowPadding":3.5,"labelOffset":6,"symbolStrokeWidth":1.2,"symbolOpacity":1,
         "symbolFillColor":{"expr":"datum.value === 'Controls' ? '#ababab' : datum.value === 'mut⁰' ? '#e3261b' : datum.value === 'mut⁻' ? '#ffffff' : '#000000'"},
         "symbolStrokeColor":{"expr":"datum.value === 'Controls' ? '#ababab' : datum.value === 'mut⁰' ? '#e3261b' : '#000000'"},
         "labelColor":{"expr":"datum.value === 'mut⁰' ? '#e3261b' : '#000000'"},
         "labelFontStyle":{"expr":"datum.value === 'Controls' ? 'normal' : 'italic'"}}}}},
     {"data":{"values":[{"t":15,"y":-1.3,"txt":"***"},{"t":8,"y":-6,"txt":"***"},{"t":8.5,"y":-11.6,"txt":"****"},{"t":15,"y":-8.8,"txt":"****"},{"t":5,"y":-25.6,"txt":"****"},{"t":8.5,"y":-24.3,"txt":"****"},{"t":15,"y":-23,"txt":"****"},{"t":30,"y":-20.3,"txt":"****"}]},
      "mark":{"type":"text","fontSize":8,"baseline":"bottom","color":"black"},
      "encoding":{"x":{"field":"t","type":"quantitative"},"y":{"field":"y","type":"quantitative"},"text":{"field":"txt"}}},
     {"data":{"values":[{}]},"mark":{"type":"text","text":"//","fontSize":12,"baseline":"middle","color":"black"},"encoding":{"x":{"datum":32,"type":"quantitative"},"y":{"datum":-30,"type":"quantitative"}}}
    ]},
   {"width":210,"height":189,
    "title":{"text":"d","dx":-75,"dy":10},
    "data":{"values":[
     {"g":"LT/LKT","ph":"Pre","x":1,"v":15,"pid":"L1"},{"g":"LT/LKT","ph":"Post","x":2,"v":48.7,"pid":"L1"},
     {"g":"LT/LKT","ph":"Pre","x":1,"v":13.9,"pid":"L2"},{"g":"LT/LKT","ph":"Post","x":2,"v":49.5,"pid":"L2"},
     {"g":"LT/LKT","ph":"Pre","x":1,"v":7.2,"pid":"L3"},{"g":"LT/LKT","ph":"Post","x":2,"v":45.7,"pid":"L3"},
     {"g":"KT","ph":"Pre","x":3,"v":20.3,"pid":"K1"},{"g":"KT","ph":"Post","x":4,"v":28.7,"pid":"K1"},
     {"g":"KT","ph":"Pre","x":3,"v":13,"pid":"K2"},{"g":"KT","ph":"Post","x":4,"v":24.4,"pid":"K2"},
     {"g":"KT","ph":"Pre","x":3,"v":12.4,"pid":"K3"},{"g":"KT","ph":"Post","x":4,"v":21.2,"pid":"K3"}
    ]},
    "layer":[
     {"data":{"values":[{}]},"mark":{"type":"rect","color":"#ececec"},
      "encoding":{"x":{"datum":0.32,"type":"quantitative"},"x2":{"datum":4.17},"y":{"datum":42,"type":"quantitative"},"y2":{"datum":52.5}}},
     {"data":{"values":[{}]},"mark":{"type":"rule","color":"#8a8a8a","strokeWidth":1.3},
      "encoding":{"x":{"datum":0.32,"type":"quantitative"},"x2":{"datum":4.17},"y":{"datum":47.3,"type":"quantitative"}}},
     {"mark":{"type":"line","color":"#777777","strokeWidth":0.9,"strokeDash":[3,1.5]},
      "encoding":{
       "x":{"field":"x","type":"quantitative","scale":{"domain":[0.32,4.63],"nice":false,"zero":false},"axis":{"values":[1,1.5,2,3,3.5,4],"tickCount":20,"ticks":false,"labelExpr":"datum.value == 1.5 ? ['', 'LT/LKT'] : datum.value == 3.5 ? ['', 'KT'] : (datum.value == 1 || datum.value == 3) ? 'Pre' : 'Post'","labelLineHeight":22,"labelPadding":8,"labelFontSize":15,"title":null}},
       "y":{"field":"v","type":"quantitative","scale":{"domain":[0,60],"nice":false},"axis":{"values":[0,10,20,30,40,50,60],"tickCount":20,"labelExpr":"datum.value % 20 == 0 ? datum.label : ''","tickSize":{"condition":{"test":"datum.value % 20 != 0","value":4},"value":7},"title":["Cumulative % 1-¹³C3 Dose","Metabolized in 120 mins"]}},
       "detail":{"field":"pid"}}},
     {"mark":{"type":"point","filled":true,"size":55,"opacity":1},
      "encoding":{"x":{"field":"x","type":"quantitative"},"y":{"field":"v","type":"quantitative"},
       "color":{"field":"ph","type":"nominal","scale":{"domain":["Pre","Post"],"range":["#b3b3b3","#000000"]},"legend":null},
       "shape":{"field":"g","type":"nominal","scale":{"domain":["LT/LKT","KT"],"range":["circle","square"]},"legend":null}}},
     {"data":{"values":[{"x1":1,"x2":2,"tx":1.5,"y":54.5,"txt":"**"},{"x1":2.2,"x2":4,"tx":3.1,"y":54.5,"txt":"***"},{"x1":3,"x2":4,"tx":3.5,"y":33.9,"txt":"*"}]},
      "layer":[
       {"mark":{"type":"rule","color":"#555555","strokeWidth":1.2},"encoding":{"x":{"field":"x1","type":"quantitative"},"x2":{"field":"x2"},"y":{"field":"y","type":"quantitative"}}},
       {"mark":{"type":"text","fontSize":11,"baseline":"bottom","dy":-2,"color":"black"},"encoding":{"x":{"field":"tx","type":"quantitative"},"y":{"field":"y","type":"quantitative"},"text":{"field":"txt"}}}
      ]}
    ]}
  ]},
  {"spacing":100,"bounds":"flush",
   "resolve":{"scale":{"color":"independent","fill":"independent","stroke":"independent","shape":"independent","strokeDash":"independent"},"legend":{"color":"independent","fill":"independent","stroke":"independent","shape":"independent","strokeDash":"independent"}},
   "vconcat":[
   {"width":232,"height":207,
    "title":{"text":"f","dx":-74,"dy":14},
    "data":{"values":[
     {"s":"Controls","t":0,"v":-24},{"s":"Controls","t":1,"v":-23.5,"e":-19.5},{"s":"Controls","t":5,"v":-9.9,"e":-2.7},{"s":"Controls","t":7,"v":-5.5,"e":3},{"s":"Controls","t":10,"v":-1,"e":7.3},{"s":"Controls","t":15,"v":3.5,"e":11},{"s":"Controls","t":30,"v":0.6,"e":5.6},{"s":"Controls","t":60,"v":-10.5,"e":-7.5},{"s":"Controls","t":90,"v":-15.4,"e":-13.6},{"s":"Controls","t":120,"v":-18.3,"e":-15.6},
     {"s":"mut⁰ LT/LKT","t":0,"v":-22.8},{"s":"mut⁰ LT/LKT","t":1,"v":-21.5},{"s":"mut⁰ LT/LKT","t":5,"v":-5.8,"e":-18.2},{"s":"mut⁰ LT/LKT","t":7,"v":-2,"e":-16},{"s":"mut⁰ LT/LKT","t":10,"v":1.2,"e":-12.9},{"s":"mut⁰ LT/LKT","t":15,"v":2.5,"e":-7.9},{"s":"mut⁰ LT/LKT","t":30,"v":-2.7,"e":-7.2},{"s":"mut⁰ LT/LKT","t":60,"v":-10.7},{"s":"mut⁰ LT/LKT","t":90,"v":-15.5,"e":-18.5},{"s":"mut⁰ LT/LKT","t":120,"v":-18.3,"e":-20.5},
     {"s":"mut⁰ KT","t":0,"v":-24.2},{"s":"mut⁰ KT","t":1,"v":-23.2,"e":-19.3},{"s":"mut⁰ KT","t":5,"v":-21.7,"e":-19.6},{"s":"mut⁰ KT","t":7,"v":-21.3,"e":-19},{"s":"mut⁰ KT","t":10,"v":-20.4,"e":-18.5},{"s":"mut⁰ KT","t":15,"v":-18.8,"e":-16.3},{"s":"mut⁰ KT","t":30,"v":-14.5,"e":-11.6},{"s":"mut⁰ KT","t":60,"v":-14},{"s":"mut⁰ KT","t":90,"v":-15.8},{"s":"mut⁰ KT","t":120,"v":-18},
     {"s":"mut⁰","t":0,"v":-21.4,"e":-24.2},{"s":"mut⁰","t":1,"v":-21.1},{"s":"mut⁰","t":5,"v":-21.1,"e":-23.8},{"s":"mut⁰","t":7,"v":-20.5,"e":-23.4},{"s":"mut⁰","t":10,"v":-19.6,"e":-22.8},{"s":"mut⁰","t":15,"v":-17.7,"e":-21.7},{"s":"mut⁰","t":30,"v":-14.1,"e":-18.7},{"s":"mut⁰","t":60,"v":-13.8,"e":-18.1},{"s":"mut⁰","t":90,"v":-15.8,"e":-19.5},{"s":"mut⁰","t":120,"v":-17.3,"e":-20.7}
    ]},
    "layer":[
     {"data":{"values":[{}]},"mark":{"type":"rule","strokeDash":[2,2],"color":"#444444","strokeWidth":0.8},"encoding":{"y":{"datum":0,"type":"quantitative"}}},
     {"mark":{"type":"line","strokeWidth":1.2},
      "encoding":{
       "x":{"field":"t","type":"quantitative","scale":{"domain":[0,30,60,120],"range":[0,103,145,232],"nice":false,"zero":false},"axis":{"values":[0,10,20,30,60,90,120],"tickCount":20,"title":"Time (min)"}},
       "y":{"field":"v","type":"quantitative","scale":{"domain":[-30,20],"nice":false},"axis":{"values":[-30,-20,-10,0,10,20],"tickCount":20,"title":"Δ¹³C enrichment"}},
       "stroke":{"field":"s","type":"nominal","scale":{"domain":["mut⁰","mut⁰ KT","mut⁰ LT/LKT","Controls"],"range":["#e3261b","#9a9a9a","#4353b6","#ababab"]},"legend":null},
       "strokeDash":{"field":"s","type":"nominal","scale":{"domain":["mut⁰","mut⁰ KT","mut⁰ LT/LKT","Controls"],"range":[[1,0],[4,2],[4,2],[1,0]]},"legend":null}}},
     {"transform":[{"filter":"isValid(datum.e)"}],"mark":{"type":"rule","strokeWidth":1.2},
      "encoding":{"x":{"field":"t","type":"quantitative"},"y":{"field":"v","type":"quantitative"},"y2":{"field":"e"},"stroke":{"field":"s","type":"nominal","legend":null}}},
     {"transform":[{"filter":"isValid(datum.e)"}],"mark":{"type":"tick","orient":"horizontal","size":9,"thickness":1.2},
      "encoding":{"x":{"field":"t","type":"quantitative"},"y":{"field":"e","type":"quantitative"},"color":{"field":"s","type":"nominal","scale":{"domain":["mut⁰","mut⁰ KT","mut⁰ LT/LKT","Controls"],"range":["#e3261b","#9a9a9a","#4353b6","#ababab"]},"legend":null}}},
     {"mark":{"type":"point","filled":true,"size":60,"opacity":1,"strokeWidth":1.2},
      "encoding":{"x":{"field":"t","type":"quantitative"},"y":{"field":"v","type":"quantitative"},
       "fill":{"field":"s","type":"nominal","scale":{"domain":["mut⁰","mut⁰ KT","mut⁰ LT/LKT","Controls"],"range":["#e3261b","#9a9a9a","#4353b6","#ababab"]},"legend":null},
       "shape":{"field":"s","type":"nominal","scale":{"domain":["Controls","mut⁰ LT/LKT","mut⁰ KT","mut⁰"],"range":["circle","square","triangle-up","circle"]},
        "legend":{"title":null,"orient":"none","legendX":150,"legendY":-3,"labelFontSize":14,"symbolSize":55,"rowPadding":9,"labelOffset":6,"symbolOpacity":1,"symbolStrokeWidth":0,
         "symbolFillColor":{"expr":"datum.value === 'Controls' ? '#ababab' : datum.value === 'mut⁰ LT/LKT' ? '#4353b6' : datum.value === 'mut⁰ KT' ? '#9a9a9a' : '#e3261b'"},
         "symbolStrokeColor":{"expr":"datum.value === 'Controls' ? '#ababab' : datum.value === 'mut⁰ LT/LKT' ? '#4353b6' : datum.value === 'mut⁰ KT' ? '#9a9a9a' : '#e3261b'"},
         "labelColor":{"expr":"datum.value === 'mut⁰' ? '#e3261b' : datum.value === 'mut⁰ LT/LKT' ? '#4353b6' : '#000000'"},
         "labelFontStyle":{"expr":"datum.value === 'mut⁰' ? 'italic' : 'normal'"}}}}},
     {"data":{"values":[{}]},"mark":{"type":"text","text":"| |","fontSize":11,"baseline":"middle","color":"black"},"encoding":{"x":{"datum":32,"type":"quantitative"},"y":{"datum":-30,"type":"quantitative"}}}
    ]},
   {"width":195,"height":208,
    "title":{"text":"h","dx":-74,"dy":1},
    "data":{"values":[
     {"s":"Pt Post-B12","t":0,"v":0},{"s":"Pt Post-B12","t":2,"v":0.2},{"s":"Pt Post-B12","t":5,"v":0.6},{"s":"Pt Post-B12","t":7,"v":1.2},{"s":"Pt Post-B12","t":10,"v":2.3},{"s":"Pt Post-B12","t":15,"v":5.5},{"s":"Pt Post-B12","t":20,"v":9.5},{"s":"Pt Post-B12","t":25,"v":14},{"s":"Pt Post-B12","t":30,"v":18.2},{"s":"Pt Post-B12","t":45,"v":27.2},{"s":"Pt Post-B12","t":60,"v":34.1},{"s":"Pt Post-B12","t":90,"v":44.7},{"s":"Pt Post-B12","t":120,"v":52.4},
     {"s":"cblA mean","t":0,"v":0},{"s":"cblA mean","t":2,"v":0.3},{"s":"cblA mean","t":5,"v":0.8},{"s":"cblA mean","t":7,"v":1.5},{"s":"cblA mean","t":10,"v":2.5,"lo":1.8,"hi":3.4},{"s":"cblA mean","t":15,"v":5.5,"lo":4.5,"hi":7.3},{"s":"cblA mean","t":20,"v":9.5},{"s":"cblA mean","t":25,"v":14.1},{"s":"cblA mean","t":30,"v":16.3,"lo":12.8,"hi":20.2},{"s":"cblA mean","t":45,"v":27.2},{"s":"cblA mean","t":60,"v":32.9,"lo":28.5,"hi":37.2},{"s":"cblA mean","t":90,"v":42.5,"lo":37.5,"hi":47.4},{"s":"cblA mean","t":120,"v":48.2,"lo":42.5,"hi":54},
     {"s":"Pt Pre-B12","t":0,"v":0},{"s":"Pt Pre-B12","t":2,"v":0},{"s":"Pt Pre-B12","t":5,"v":0.2},{"s":"Pt Pre-B12","t":7,"v":0.5},{"s":"Pt Pre-B12","t":10,"v":1},{"s":"Pt Pre-B12","t":15,"v":2.7},{"s":"Pt Pre-B12","t":20,"v":4.3},{"s":"Pt Pre-B12","t":25,"v":6.7},{"s":"Pt Pre-B12","t":30,"v":9.8},{"s":"Pt Pre-B12","t":45,"v":18.2},{"s":"Pt Pre-B12","t":60,"v":24.8},{"s":"Pt Pre-B12","t":90,"v":33.2},{"s":"Pt Pre-B12","t":120,"v":38.5}
    ]},
    "layer":[
     {"mark":{"type":"line","strokeWidth":1.3},
      "encoding":{
       "x":{"field":"t","type":"quantitative","scale":{"domain":[0,120],"nice":false},"axis":{"values":[0,30,60,90,120],"tickCount":20,"title":"Time (min)"}},
       "y":{"field":"v","type":"quantitative","scale":{"domain":[0,60],"nice":false},"axis":{"values":[0,10,20,30,40,50,60],"tickCount":20,"labelExpr":"datum.value % 20 == 0 ? datum.label : ''","tickSize":{"condition":{"test":"datum.value % 20 != 0","value":4},"value":7},"title":["Cumulative % 1-¹³C3","Dose Metabolized"]}},
       "stroke":{"field":"s","type":"nominal","scale":{"domain":["Pt Pre-B12","Pt Post-B12","cblA mean"],"range":["#e3261b","#4353b6","#b0b0b0"]},"legend":null},
       "strokeDash":{"field":"s","type":"nominal","scale":{"domain":["Pt Pre-B12","Pt Post-B12","cblA mean"],"range":[[1,0],[1,0],[4,2]]},"legend":null}}},
     {"transform":[{"filter":"isValid(datum.lo)"}],"mark":{"type":"rule","strokeWidth":1.2},
      "encoding":{"x":{"field":"t","type":"quantitative"},"y":{"field":"lo","type":"quantitative"},"y2":{"field":"hi"},"stroke":{"field":"s","type":"nominal","legend":null}}},
     {"transform":[{"filter":"isValid(datum.lo)"}],"mark":{"type":"tick","orient":"horizontal","size":8,"thickness":1.2},
      "encoding":{"x":{"field":"t","type":"quantitative"},"y":{"field":"lo","type":"quantitative"},"color":{"field":"s","type":"nominal","scale":{"domain":["Pt Pre-B12","Pt Post-B12","cblA mean"],"range":["#e3261b","#4353b6","#b0b0b0"]},"legend":null}}},
     {"transform":[{"filter":"isValid(datum.hi)"}],"mark":{"type":"tick","orient":"horizontal","size":8,"thickness":1.2},
      "encoding":{"x":{"field":"t","type":"quantitative"},"y":{"field":"hi","type":"quantitative"},"color":{"field":"s","type":"nominal","legend":null}}},
     {"mark":{"type":"point","filled":true,"size":55,"opacity":1,"strokeWidth":1},
      "encoding":{"x":{"field":"t","type":"quantitative"},"y":{"field":"v","type":"quantitative"},
       "fill":{"field":"s","type":"nominal","scale":{"domain":["Pt Pre-B12","Pt Post-B12","cblA mean"],"range":["#e3261b","#4353b6","#b0b0b0"]},"legend":null},
       "shape":{"field":"s","type":"nominal","scale":{"domain":["cblA mean","Pt Post-B12","Pt Pre-B12"],"range":["square","circle","circle"]},
        "legend":{"title":null,"orient":"none","legendX":27,"legendY":-3,"labelFontSize":14,"symbolSize":55,"rowPadding":6,"labelOffset":6,"symbolOpacity":1,"symbolStrokeWidth":0,
         "symbolFillColor":{"expr":"datum.value === 'cblA mean' ? '#b0b0b0' : datum.value === 'Pt Post-B12' ? '#4353b6' : '#e3261b'"},
         "symbolStrokeColor":{"expr":"datum.value === 'cblA mean' ? '#b0b0b0' : datum.value === 'Pt Post-B12' ? '#4353b6' : '#e3261b'"},
         "labelColor":"#000000"}}}}
    ]}
  ]}
 ]}
]}
